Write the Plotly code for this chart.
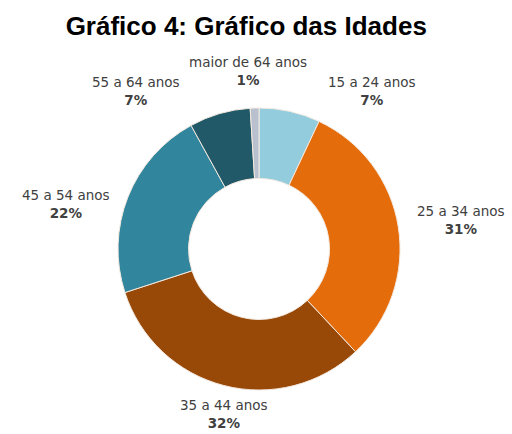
import plotly.graph_objects as go

# Age groups and their share of respondents (%)
faixas = ["15 a 24 anos", "25 a 34 anos", "35 a 44 anos",
          "45 a 54 anos", "55 a 64 anos", "maior de 64 anos"]
percentuais = [7, 31, 32, 22, 7, 1]
cores = ["#93CDDD", "#E46C0A", "#984807", "#31859C", "#215968", "#B9C1CE"]

# Label anchor points (paper coordinates) for each age group
label_x = [0.727, 0.900, 0.437, 0.129, 0.266, 0.484]
label_y = [0.790, 0.493, 0.046, 0.530, 0.790, 0.836]

fig = go.Figure(go.Pie(
    labels=faixas,
    values=percentuais,
    hole=0.5,
    sort=False,
    direction="clockwise",
    rotation=0,
    marker=dict(colors=cores, line=dict(color="#F3E9E0", width=1)),
    textinfo="none",
    hoverinfo="label+percent",
    domain=dict(x=[0.2305, 0.7813], y=[0.1014, 0.7512]),
    showlegend=False,
))

for nome, pct, lx, ly in zip(faixas, percentuais, label_x, label_y):
    fig.add_annotation(
        x=lx, y=ly, xref="paper", yref="paper",
        text=f"{nome}<br><b>{pct}%</b>",
        showarrow=False, align="center",
        xanchor="center", yanchor="middle",
        font=dict(family="DejaVu Sans", size=13.5, color="#404040"),
    )

fig.update_layout(
    width=512, height=434,
    margin=dict(l=0, r=0, t=0, b=0),
    paper_bgcolor="white",
    plot_bgcolor="white",
    title=dict(
        text="<b>Gráfico 4: Gráfico das Idades</b>",
        x=0.481, xanchor="center", y=0.94, yanchor="middle",
        font=dict(family="Liberation Sans", size=26, color="black"),
    ),
)

fig.write_html("out.html")
